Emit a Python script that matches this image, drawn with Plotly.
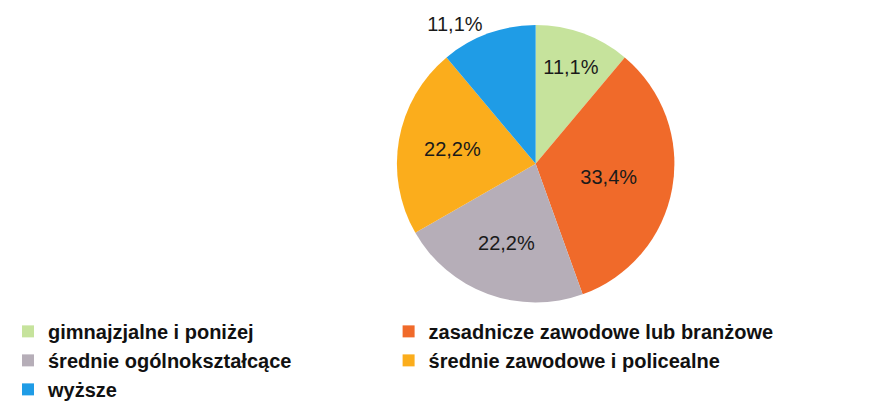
import plotly.graph_objects as go

categories = [
    "gimnajzjalne i poniżej",
    "zasadnicze zawodowe lub branżowe",
    "średnie ogólnokształcące",
    "średnie zawodowe i policealne",
    "wyższe",
]
values = [11.1, 33.4, 22.2, 22.2, 11.1]
value_labels = ["11,1%", "33,4%", "22,2%", "22,2%", "11,1%"]
colors = ["#c6e39c", "#f06a2a", "#b6aeb8", "#fbad1c", "#1f9ce6"]
text_positions = ["inside", "inside", "inside", "inside", "outside"]

fig = go.Figure()
fig.add_trace(go.Pie(
    labels=categories,
    values=values,
    text=value_labels,
    textinfo="text",
    textposition=text_positions,
    insidetextorientation="horizontal",
    textfont=dict(family="Liberation Sans, Arial, sans-serif", size=20, color="#1a1a1a"),
    marker=dict(colors=colors, line=dict(width=0)),
    sort=False,
    direction="clockwise",
    rotation=0,
    domain=dict(x=[0.32, 0.90], y=[0.26, 1.0]),
    hole=0,
))

fig.update_layout(
    width=896,
    height=401,
    margin=dict(l=0, r=0, t=0, b=0),
    paper_bgcolor="white",
    plot_bgcolor="white",
    showlegend=True,
    legend=dict(
        orientation="h",
        traceorder="normal",
        x=0.0,
        y=0.235,
        xanchor="left",
        yanchor="top",
        entrywidth=0.44,
        entrywidthmode="fraction",
        font=dict(family="Liberation Sans, Arial, sans-serif", size=20, color="#111111", weight="bold"),
        itemsizing="constant",
    ),
)

fig.write_html("out.html")
